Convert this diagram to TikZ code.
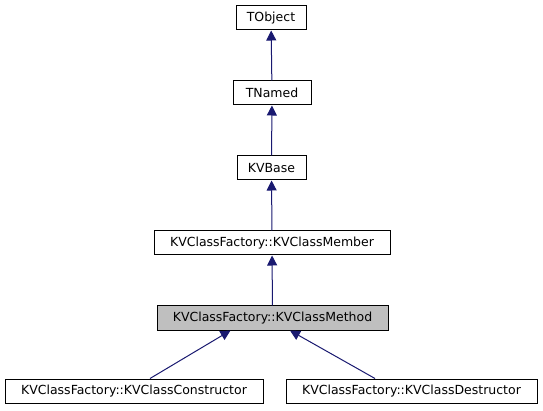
\documentclass[tikz,border=0pt]{standalone}
\usepackage{fontspec}
\setmainfont{DejaVu Sans}
\usepackage{tikz}
\usetikzlibrary{arrows.meta,positioning}

\definecolor{edgeblue}{RGB}{25,25,112}
\definecolor{boxgray}{RGB}{191,191,191}

\tikzset{
	cls/.style={draw=black,line width=1pt,minimum height=24pt,inner sep=0pt,font=\fontsize{12.5}{15}\selectfont},
	inh/.style={{Triangle[length=10pt,width=10pt]}-,edgeblue,line width=1pt}
}

\begin{document}
\begin{tikzpicture}[x=1pt,y=-1pt]
	\useasboundingbox (0,0) rectangle (543,411);

	\node[cls,minimum width=70pt] (obj) at (271,18) {TObject};
	\node[cls,minimum width=78pt] (named) at (272,93) {TNamed};
	\node[cls,minimum width=69pt] (base) at (271.5,168) {KVBase};
	\node[cls,minimum width=236pt] (member) at (272,243) {KVClassFactory::KVClassMember};
	\node[cls,minimum width=231pt,fill=boxgray] (method) at (272.5,318) {KVClassFactory::KVClassMethod};
	\node[cls,minimum width=258pt] (ctor) at (134,391) {KVClassFactory::KVClassConstructor};
	\node[cls,minimum width=251pt] (dtor) at (411.5,391) {KVClassFactory::KVClassDestructor};

	\draw[inh] (obj) -- (named);
	\draw[inh] (named) -- (base);
	\draw[inh] (base) -- (member);
	\draw[inh] (member) -- (method);
	\draw[inh] ([xshift=-42pt]method.south) -- ([xshift=16pt]ctor.north);
	\draw[inh] ([xshift=17.5pt]method.south) -- ([xshift=-36.5pt]dtor.north);
\end{tikzpicture}
\end{document}
